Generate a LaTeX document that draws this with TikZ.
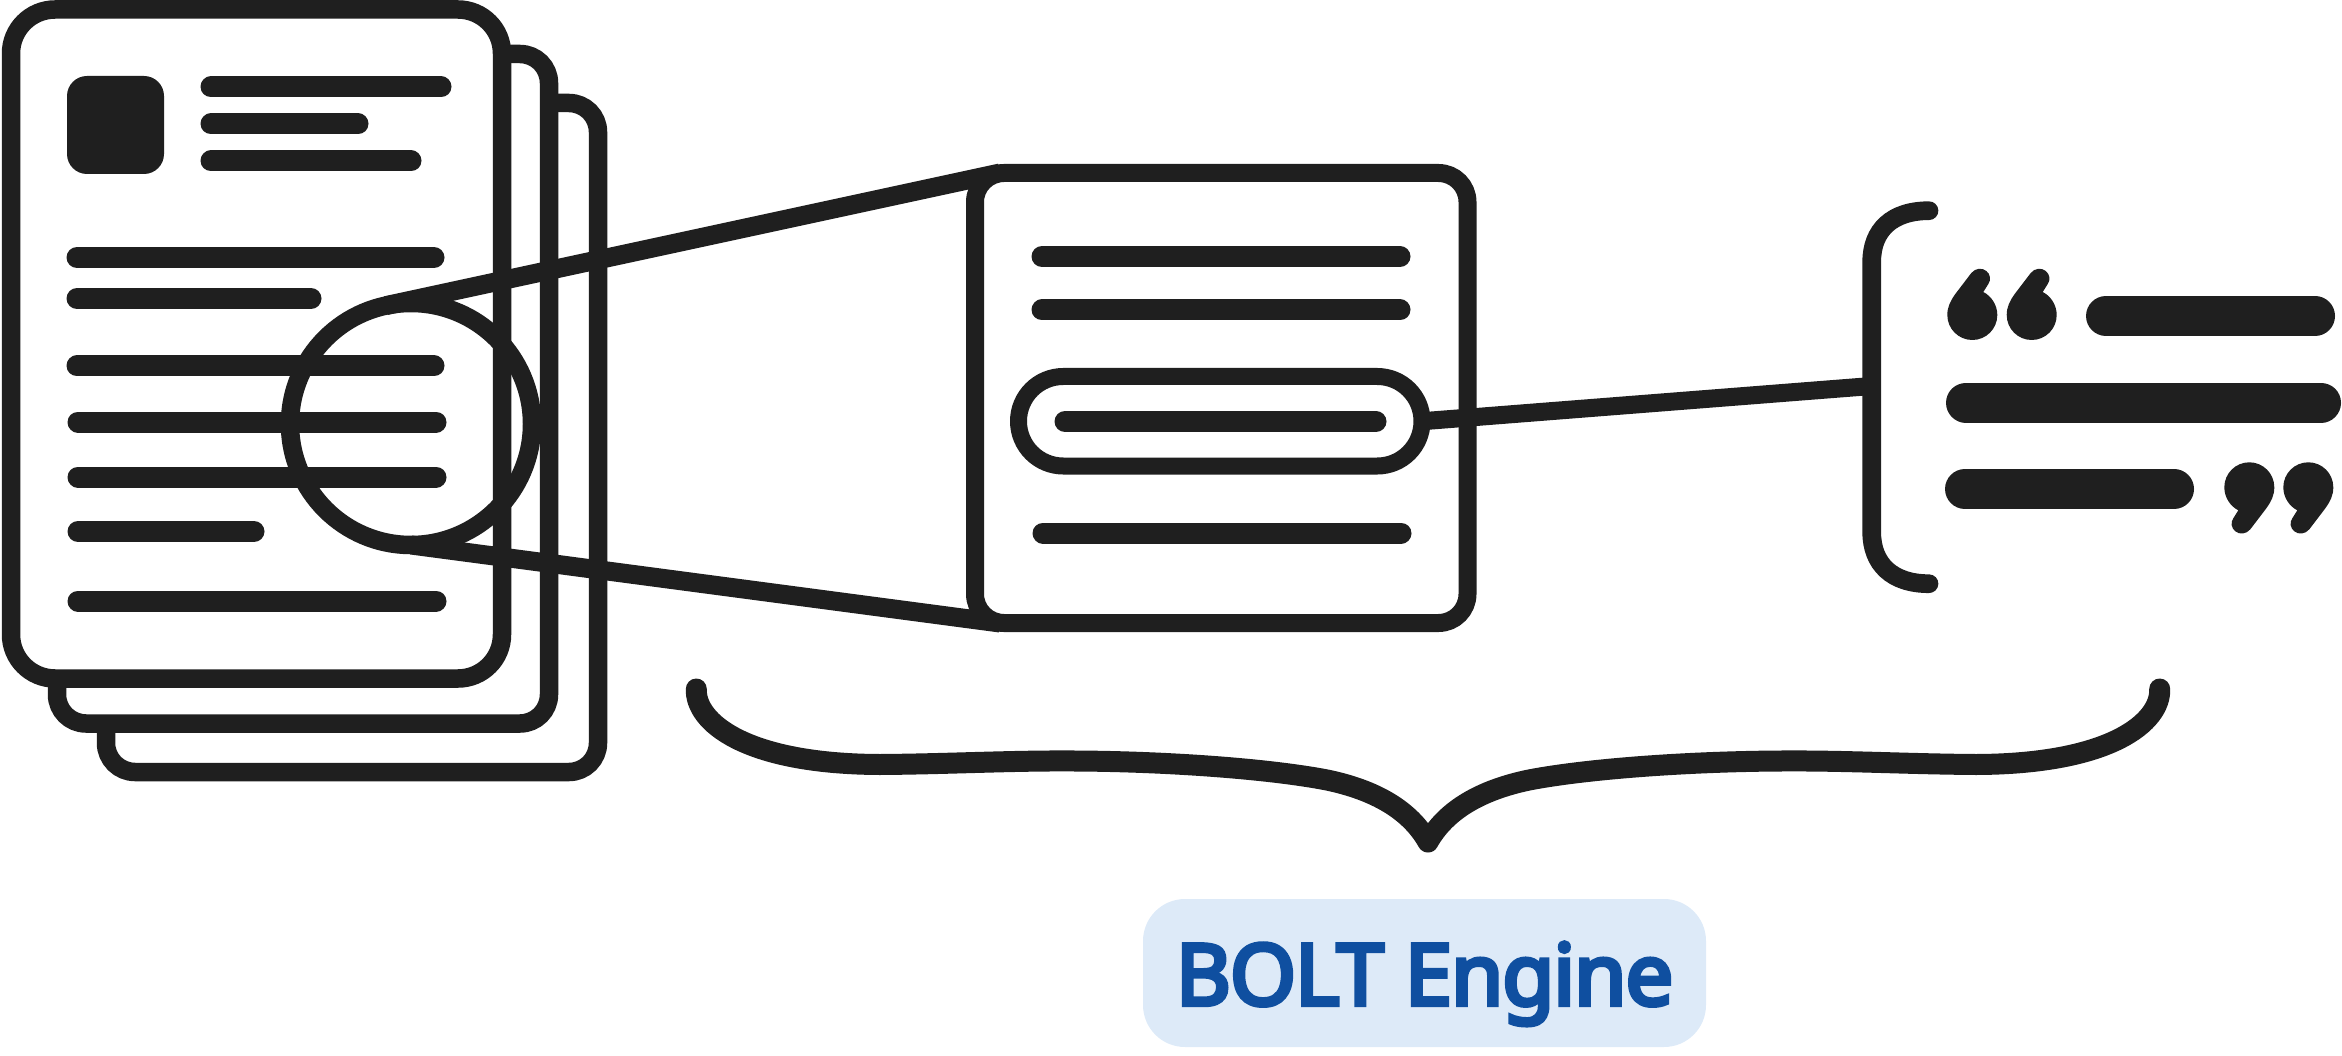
\documentclass[tikz,border=0pt]{standalone}
\usepackage{fontspec}
\newfontfamily\labelfont[LetterSpace=-1.4,FakeBold=5]{Noto Sans}
\definecolor{ink}{HTML}{1F1F1F}
\definecolor{labelfill}{HTML}{DDEAF8}
\definecolor{labelink}{HTML}{0F4FA0}
\tikzset{
  pagebox/.style={draw=ink,fill=white,line width=18.5pt,inner sep=0pt,outer sep=0pt},
  textbar/.style={draw=ink,line width=21pt,line cap=round},
  quotebar/.style={draw=ink,line width=40pt,line cap=round},
  lenslink/.style={draw=ink,line width=19pt},
  quotemark/.pic={
    \path[fill=ink] (-25,0) .. controls (-25,-8) and (-22,-14) .. (-17,-21) -- (-1,-42) .. controls (3,-47) and (10,-47.5) .. (14,-44) .. controls (18,-41) and (19,-35) .. (16,-31) -- (11,-23) .. controls (19,-19) and (25,-10) .. (25,0) .. controls (25,13.8) and (13.8,25) .. (0,25) .. controls (-13.8,25) and (-25,13.8) .. (-25,0) -- cycle;
  }
}
\begin{document}
\begin{tikzpicture}[x=1pt,y=-1pt]
  \useasboundingbox (0,0) rectangle (2342,1056);
  \node[pagebox,minimum width=492pt,minimum height=669pt,rounded corners=29pt] (pagethree) at (352,437.5) {};
  \node[pagebox,minimum width=492pt,minimum height=669.5pt,rounded corners=29pt] (pagetwo) at (303,388.75) {};
  \node[pagebox,minimum width=491pt,minimum height=669pt,rounded corners=44pt] (pageone) at (256.5,344) {};
  \path[fill=ink,rounded corners=20pt] (67,76) rectangle (164,174);
  \foreach \xa/\xb/\ya in {211/441/87,211/358/124,211/411/161,77/434/257.5,77/311/298.5,77/434/366,78/436/422,78/436/477,78/254/531.5,78/436/601}
    \draw[textbar] (\xa,\ya) -- (\xb,\ya);
  \node[circle,draw=ink,line width=18.5pt,minimum size=242pt,inner sep=0pt,outer sep=0pt] (lens) at (411,424) {};
  \coordinate (zoomtop) at (1000,173);
  \coordinate (zoombottom) at (1000,623);
  \draw[lenslink] (lens.102.4) -- (zoomtop);
  \draw[lenslink] (lens.south) -- (zoombottom);
  \node[pagebox,line width=18pt,minimum width=492.5pt,minimum height=450pt,rounded corners=29pt] (zoombox) at (1221.25,398) {};
  \foreach \xa/\xb/\ya in {1042/1400/256.5,1042/1400/310,1065/1376/421.5,1043/1401/533}
    \draw[textbar] (\xa,\ya) -- (\xb,\ya);
  \node[draw=ink,line width=17pt,minimum width=403.5pt,minimum height=89.5pt,inner sep=0pt,outer sep=0pt,rounded corners=44.7pt] (focusline) at (1220.25,421.25) {};
  \coordinate (bracketmid) at (1871.7,386);
  \draw[lenslink,line width=18pt] (focusline.east) -- (bracketmid);
  \draw[draw=ink,line width=18.7pt,line cap=round] (1929,210.7) .. controls (1892,210.7) and (1871.7,230) .. (1871.7,262) -- (1871.7,532) .. controls (1871.7,564) and (1892,583.7) .. (1929,583.7);
  \pic at (1972.3,315) {quotemark};
  \pic at (2031.7,315) {quotemark};
  \pic[rotate=180] at (2249.3,487.3) {quotemark};
  \pic[rotate=180] at (2308.3,487.3) {quotemark};
  \draw[quotebar] (2106,316) -- (2315,316);
  \draw[quotebar] (1966,402.7) -- (2321,402.7);
  \draw[quotebar] (1965,489) -- (2174,489);
  \draw[draw=ink,line width=21pt,line cap=round,line join=round] (696.3,689) .. controls (695,722) and (745,764) .. (880,764.5) .. controls (950,764) and (1010,760.5) .. (1075,761) .. controls (1170,761.5) and (1270,769) .. (1327,780) .. controls (1375,790) and (1410,810) .. (1428,842) .. controls (1446,810) and (1481,790) .. (1529,780) .. controls (1586,769) and (1686,761.5) .. (1781,761) .. controls (1846,760.5) and (1906,764) .. (1976,764.5) .. controls (2111,764) and (2161,722) .. (2159.7,689);
  \node[fill=labelfill,text=labelink,rounded corners=42pt,minimum width=563pt,minimum height=148pt,inner sep=0pt,text height=70pt,text depth=6pt,font=\labelfont\fontsize{85}{90}\selectfont] (enginelabel) at (1424.5,973) {BOLT Engine};
\end{tikzpicture}
\end{document}
